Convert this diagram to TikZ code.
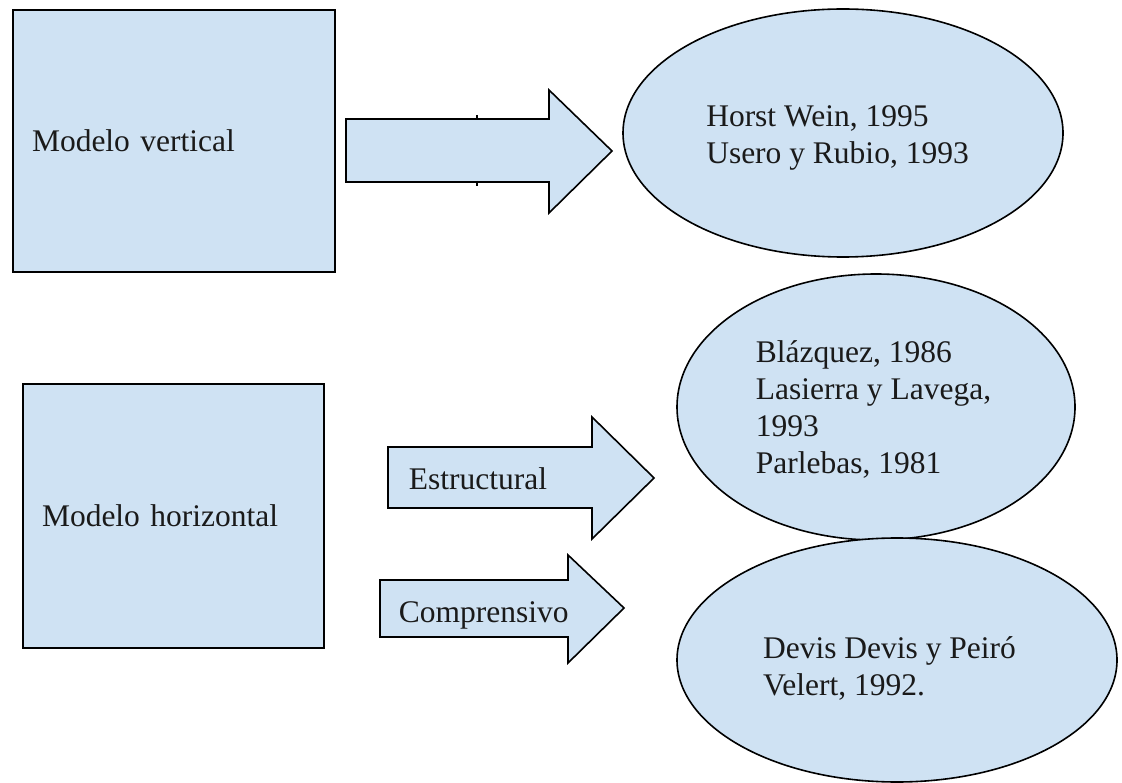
\documentclass[tikz,border=0pt]{standalone}
\usepackage{fontspec}
\setmainfont{Liberation Serif}
\usetikzlibrary{shapes.geometric}
\definecolor{celeste}{HTML}{CFE2F3}
\definecolor{tinta}{HTML}{1A1A1A}

\begin{document}
\begin{tikzpicture}[x=1pt,y=-1pt,line width=1.6pt,
    caja/.style={draw=black,fill=celeste,rectangle,inner xsep=19pt,inner ysep=0pt,
      align=left,text=tinta,font=\fontsize{31.5}{37}\selectfont},
    ovalo/.style={draw=black,fill=celeste,ellipse,inner sep=0pt},
    flecha/.style={draw=black,fill=celeste,line join=miter},
    texto/.style={align=left,text=tinta,inner sep=0pt,font=\fontsize{31.5}{37}\selectfont}]
            \useasboundingbox (0,0) rectangle (1122,783);
            % modelos
            \node [caja,minimum width=322pt,minimum height=262pt,text width=284pt] (vertical) at (174,141) {Modelo vertical};
            \node [caja,minimum width=301pt,minimum height=264pt,text width=263pt] (horizontal) at (173.5,516) {Modelo horizontal};
            % flechas
            \draw [flecha] (346,119) -- (549,119) -- (549,90) -- (612,151) -- (549,213) -- (549,182) -- (346,182) -- cycle;
            \draw [line width=1.8pt] (477,115) -- (477,120);
            \draw [line width=1.8pt] (477,181) -- (477,186);
            \draw [flecha] (388,447) -- (592,447) -- (592,417) -- (654,478) -- (592,539) -- (592,508) -- (388,508) -- cycle;
            \draw [flecha] (380,580) -- (568,580) -- (568,555) -- (624,608) -- (568,663) -- (568,637) -- (380,637) -- cycle;
            \node [texto,anchor=base west] (estructural) at (408,489) {Estructural};
            \node [texto,anchor=base west] (comprensivo) at (398,622) {Comprensivo};
            % autores
            \node [ovalo,minimum width=440pt,minimum height=248pt] (wein) at (843,133) {};
            \node [texto,xshift=-5.5pt,yshift=-5pt] (weintxt) at (wein) {Horst Wein, 1995\\Usero y Rubio, 1993};
            \node [ovalo,minimum width=398pt,minimum height=266pt] (blazquez) at (876,407) {};
            \node [texto,xshift=-2.5pt,yshift=-2pt] (blazqueztxt) at (blazquez) {Blázquez, 1986\\Lasierra y Lavega,\\1993\\Parlebas, 1981};
            \node [ovalo,minimum width=440pt,minimum height=244pt] (devis) at (897,660) {};
            \node [texto,xshift=-7.5pt,yshift=-8pt] (devistxt) at (devis) {Devis Devis y Peiró\\Velert, 1992.};
        \end{tikzpicture}
\end{document}
